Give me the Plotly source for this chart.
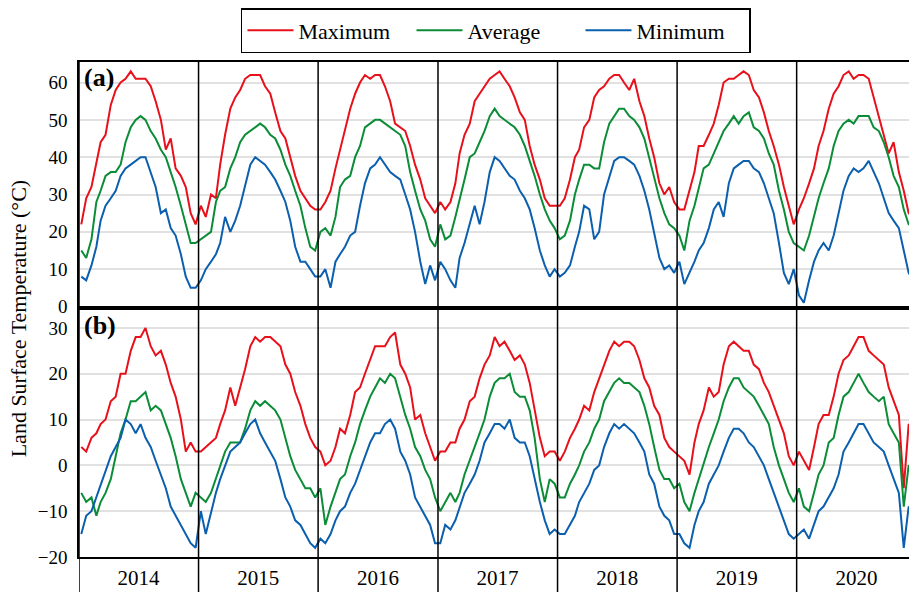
import plotly.graph_objects as go

# ---------------------------------------------------------------------------
# Semi-monthly land surface temperature composites (°C), 2014-2020.
# Each list holds 24 values per year (composites centred on the 8th and 23rd).
# ---------------------------------------------------------------------------
YEARS = [2014, 2015, 2016, 2017, 2018, 2019, 2020]
COMPOSITE_DAYS = [8, 23]
SERIES_NAMES = ["Maximum", "Average", "Minimum"]
SERIES_COLORS = ["#e8101a", "#0b8d38", "#0a5fae"]
YEAR_LABELS = [str(y) for y in YEARS]
PANEL_A_TICKS = [0, 10, 20, 30, 40, 50, 60]
PANEL_B_TICKS = [-20, -10, 0, 10, 20, 30]

# panel (a)
a_max = [
    22, 29, 32, 38, 44, 46, 54, 58, 60, 61, 63, 61, 61, 61, 59, 55, 50, 42, 45, 37, 35, 32, 25, 22,
    27, 24, 30, 29, 38, 46, 53, 56, 58, 61, 62, 62, 62, 59, 57, 52, 47, 45, 40, 35, 31, 29, 27, 26,
    26, 28, 31, 37, 42, 47, 53, 57, 60, 62, 61, 62, 62, 59, 55, 49, 48, 47, 43, 38, 34, 29, 27, 25,
    28, 26, 28, 33, 41, 46, 49, 55, 57, 59, 61, 62, 63, 61, 59, 56, 52, 50, 43, 38, 34, 29, 27, 27,
    27, 29, 34, 40, 42, 48, 50, 56, 58, 59, 61, 62, 62, 60, 58, 61, 55, 51, 45, 40, 33, 30, 32, 28,
    26, 26, 31, 36, 43, 43, 46, 49, 54, 60, 61, 61, 62, 63, 62, 58, 56, 52, 47, 43, 38, 32, 27, 22,
    26, 29, 33, 37, 43, 47, 53, 57, 59, 62, 63, 61, 62, 62, 61, 56, 51, 46, 41, 44, 36, 31, 25, 24,
]
a_avg = [
    15, 13, 18, 28, 31, 35, 36, 36, 38, 44, 48, 50, 51, 50, 47, 45, 42, 40, 36, 32, 27, 22, 17, 17,
    18, 19, 20, 28, 31, 32, 37, 40, 44, 46, 47, 48, 49, 48, 46, 45, 42, 38, 35, 31, 27, 21, 16, 15,
    20, 21, 19, 24, 32, 34, 35, 40, 43, 48, 49, 50, 50, 49, 48, 47, 46, 43, 36, 31, 26, 23, 18, 16,
    22, 18, 19, 24, 29, 34, 40, 41, 44, 47, 51, 53, 51, 50, 49, 48, 46, 43, 39, 35, 30, 26, 23, 21,
    18, 19, 23, 30, 34, 38, 38, 37, 37, 44, 49, 51, 53, 53, 51, 50, 48, 45, 40, 35, 29, 25, 22, 21,
    19, 15, 23, 27, 32, 37, 38, 41, 44, 47, 49, 51, 49, 51, 52, 48, 47, 45, 41, 38, 31, 26, 20, 17,
    16, 15, 19, 24, 29, 33, 37, 43, 47, 49, 50, 49, 51, 51, 51, 48, 47, 44, 40, 35, 32, 26, 22, 22,
]
a_min = [
    8, 7, 11, 16, 23, 27, 29, 31, 35, 37, 38, 39, 40, 40, 36, 32, 25, 26, 21, 19, 14, 8, 5, 5,
    7, 10, 12, 14, 17, 24, 20, 23, 27, 32, 38, 40, 39, 38, 36, 34, 31, 28, 23, 16, 12, 12, 10, 8,
    8, 10, 5, 12, 14, 16, 19, 20, 27, 33, 37, 38, 40, 38, 36, 35, 34, 30, 26, 20, 12, 6, 11, 7,
    12, 10, 7, 5, 13, 17, 22, 27, 22, 28, 36, 40, 39, 37, 35, 34, 31, 29, 26, 21, 15, 11, 8, 10,
    8, 9, 11, 16, 20, 27, 26, 18, 20, 30, 35, 39, 40, 40, 39, 38, 35, 31, 26, 20, 13, 10, 11, 9,
    12, 6, 9, 12, 15, 17, 21, 26, 28, 24, 33, 37, 38, 39, 39, 37, 36, 33, 29, 25, 17, 9, 6, 10,
    3, 1, 7, 12, 15, 17, 15, 19, 25, 31, 35, 37, 36, 37, 39, 36, 33, 29, 25, 23, 21, 15, 9, 7,
]

# panel (b)
b_max = [
    4, 3, 6, 7, 9, 10, 14, 15, 20, 20, 25, 28, 28, 30, 26, 24, 25, 22, 18, 15, 10, 3, 5, 3,
    3, 4, 5, 6, 9, 12, 17, 13, 17, 21, 26, 28, 27, 28, 28, 27, 26, 22, 20, 16, 13, 9, 6, 4,
    3, 0, 1, 4, 8, 7, 11, 16, 17, 20, 23, 26, 26, 26, 28, 29, 22, 20, 17, 10, 11, 7, 4, 1,
    3, 3, 5, 5, 8, 10, 14, 15, 19, 22, 24, 28, 26, 27, 25, 23, 24, 22, 18, 12, 6, 2, 3, 3,
    1, 3, 6, 8, 10, 13, 12, 16, 19, 22, 25, 27, 26, 27, 27, 26, 23, 19, 17, 13, 11, 6, 4, 3,
    2, 1, -2, 5, 9, 12, 17, 15, 16, 22, 26, 27, 26, 25, 25, 22, 21, 18, 16, 13, 10, 7, 2, 0,
    3, 1, -1, 4, 9, 11, 11, 15, 20, 23, 24, 26, 28, 28, 25, 24, 23, 22, 17, 14, 11, -5, 9, 8,
]
b_avg = [
    -6, -8, -7, -11, -8, -6, -3, 2, 7, 10, 14, 14, 15, 16, 12, 13, 12, 9, 6, 2, -3, -6, -9, -6,
    -7, -8, -6, -3, 0, 3, 5, 5, 5, 8, 12, 14, 13, 14, 13, 12, 10, 6, 2, -1, -3, -5, -5, -7,
    -5, -13, -9, -6, -3, -2, 2, 5, 9, 12, 15, 17, 19, 18, 20, 19, 15, 11, 8, 4, 2, -1, -3, -7,
    -10, -8, -6, -8, -6, -2, 1, 4, 7, 10, 15, 18, 19, 19, 20, 16, 15, 15, 12, 6, -3, -8, -3, -4,
    -7, -7, -4, -2, 0, 3, 5, 8, 10, 14, 16, 18, 19, 18, 18, 17, 16, 13, 9, 4, -1, -3, -3, -5,
    -4, -8, -10, -6, -3, 0, 4, 7, 10, 14, 17, 19, 19, 17, 16, 15, 13, 11, 9, 4, 0, -3, -6, -8,
    -5, -9, -10, -6, -2, 0, 5, 6, 11, 15, 16, 18, 20, 18, 16, 15, 14, 15, 9, 7, 5, -9, 0, -1,
]
b_min = [
    -15, -11, -10, -7, -4, -1, 2, 4, 6, 10, 9, 7, 9, 6, 4, 1, -2, -5, -9, -11, -13, -15, -17, -18,
    -10, -15, -10, -6, -3, 0, 3, 4, 5, 7, 9, 10, 7, 5, 3, 1, -3, -7, -9, -12, -13, -15, -17, -18,
    -16, -17, -15, -12, -10, -9, -6, -4, -1, 2, 5, 7, 7, 9, 10, 8, 3, 1, -2, -7, -9, -11, -13, -17,
    -17, -13, -14, -12, -9, -6, -4, -2, 1, 5, 7, 9, 9, 8, 10, 6, 5, 5, 2, -3, -8, -12, -15, -14,
    -15, -15, -13, -11, -8, -6, -4, -1, 0, 4, 7, 9, 8, 9, 8, 7, 5, 3, -2, -4, -9, -11, -12, -15,
    -15, -17, -18, -13, -10, -8, -4, -2, 0, 3, 6, 8, 8, 7, 5, 4, 2, 0, -3, -6, -9, -12, -15, -16,
    -15, -14, -16, -13, -10, -9, -7, -5, -2, 3, 5, 7, 9, 9, 7, 5, 4, 3, 0, -3, -6, -18, -9, -10,
]

dates = [f"{y}-{m:02d}-{d:02d}" for y in YEARS for m in range(1, 13) for d in COMPOSITE_DAYS]
year_starts = [f"{y}-01-01" for y in YEARS]
year_mids = [f"{y}-07-02" for y in YEARS]
X_RANGE = ["2014-01-01", "2020-12-09"]

FONT = "Liberation Serif, Times New Roman, serif"

fig = go.Figure()
for vals, name, color in zip([a_max, a_avg, a_min], SERIES_NAMES, SERIES_COLORS):
    fig.add_trace(go.Scatter(x=dates, y=vals, name=name, mode="lines",
                             line=dict(color=color, width=2), xaxis="x", yaxis="y"))
for vals, name, color in zip([b_max, b_avg, b_min], SERIES_NAMES, SERIES_COLORS):
    fig.add_trace(go.Scatter(x=dates, y=vals, name=name, mode="lines", showlegend=False,
                             line=dict(color=color, width=2), xaxis="x2", yaxis="y2"))

frame = dict(showline=True, linecolor="black", linewidth=1.5)
ygrid = dict(showgrid=True, gridcolor="#e1e1e1", gridwidth=1.5, zeroline=False,
             ticks="outside", ticklen=6, tickcolor="rgba(0,0,0,0)",
             tickfont=dict(size=19, family=FONT))

fig.update_layout(
    width=909, height=592,
    margin=dict(l=79, r=0, t=62, b=35),
    paper_bgcolor="white", plot_bgcolor="white",
    font=dict(family=FONT, size=21, color="black"),
    legend=dict(orientation="h", x=0.5024, xanchor="center", y=1.109, yanchor="top",
                bordercolor="black", borderwidth=1.5, bgcolor="white",
                font=dict(size=22, family=FONT), itemwidth=46,
                entrywidth=108, entrywidthmode="pixels"),
    xaxis=dict(domain=[0, 1], anchor="y", type="date", range=X_RANGE, showgrid=False,
               mirror=True, showticklabels=False, ticks="", **frame),
    yaxis=dict(domain=[0.5061, 1], anchor="x", range=[0, 65.5], tickvals=PANEL_A_TICKS,
               **ygrid, **frame),
    xaxis2=dict(domain=[0, 1], anchor="y2", type="date", range=X_RANGE, matches="x",
                showgrid=False, mirror=True, tickvals=year_mids, ticktext=YEAR_LABELS,
                ticks="outside", ticklen=1, tickcolor="rgba(0,0,0,0)",
                tickfont=dict(size=21, family=FONT), **frame),
    yaxis2=dict(domain=[0, 0.498], anchor="x2", range=[-20, 33.8], tickvals=PANEL_B_TICKS,
                **ygrid, **frame),
)

# year separators running through both panels and the year strip
for ys in year_starts:
    fig.add_shape(type="line", xref="x", yref="paper", x0=ys, x1=ys, y0=-0.08, y1=1,
                  line=dict(color="black", width=1.5), layer="above")

# panel tags
fig.add_annotation(text="<b>(a)</b>", xref="paper", yref="paper", x=0.004, y=1.003,
                   xanchor="left", yanchor="top", showarrow=False,
                   font=dict(size=26, family=FONT))
fig.add_annotation(text="<b>(b)</b>", xref="paper", yref="paper", x=0.004, y=0.501,
                   xanchor="left", yanchor="top", showarrow=False,
                   font=dict(size=26, family=FONT))

# shared y-axis title
fig.add_annotation(text="Land Surface Temperature (°C)", xref="paper", yref="paper",
                   x=-0.073, y=0.481, xanchor="center", yanchor="middle", textangle=-90,
                   showarrow=False, font=dict(size=22, family=FONT))

fig.write_html("out.html")
